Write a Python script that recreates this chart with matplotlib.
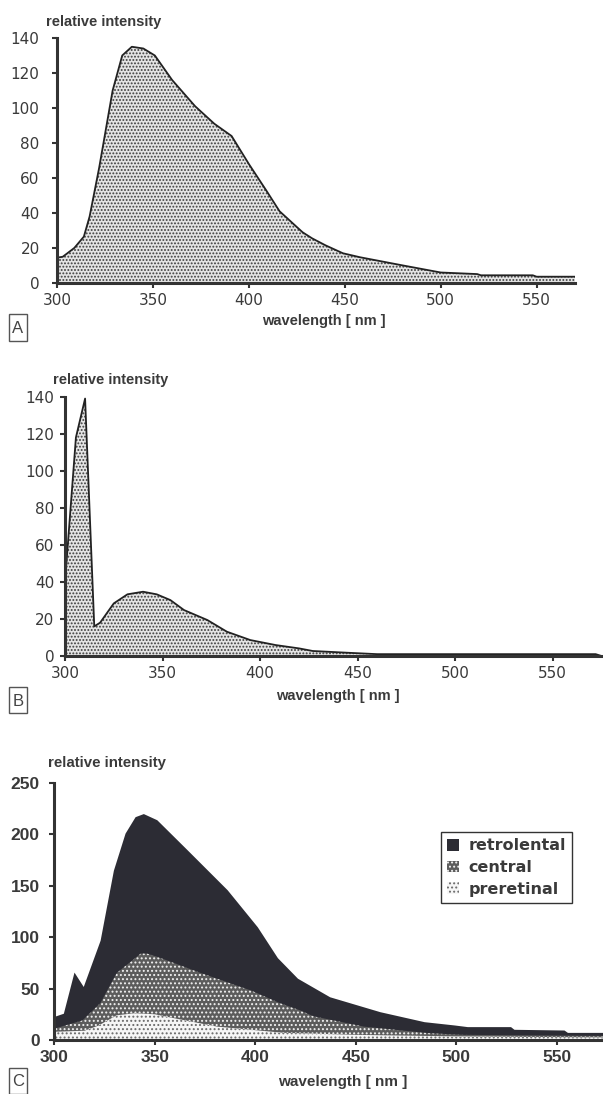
import matplotlib
matplotlib.use("Agg")
import matplotlib.pyplot as plt
from matplotlib.patches import Patch, Rectangle

# ---------------- data ----------------
wl_A = [300, 303, 309, 314, 317, 322, 329, 334, 339, 345, 351, 360, 372, 382, 391, 400,
        409, 416, 423, 428, 433, 440, 449, 458, 479, 500, 519, 521, 548, 550, 570]
int_A = [14.5, 15, 20, 26.5, 38, 66, 110, 130, 135, 134, 130, 116, 101, 91, 84, 68,
         53, 41, 34, 29, 25.5, 21.5, 17, 14.7, 10.3, 6, 5.1, 4.4, 4.4, 3.6, 3.6]

wl_B = [300, 305.6, 310.3, 315, 318, 325, 332, 340, 347, 354, 361, 373, 383, 395,
        408, 420, 427, 444, 460, 572, 575]
int_B = [40, 118, 139, 16, 18, 28.4, 33.3, 34.7, 33.3, 30.2, 24.8, 19.4, 13.1, 8.6,
         5.9, 4.1, 2.7, 1.8, 1.0, 1.0, 0]

wl_retro = [300, 304.5, 309.8, 314.4, 322.8, 329.4, 335.2, 340.2, 344.3, 351, 366, 386,
            401, 411, 421, 437, 462, 484, 499, 505.5, 527, 528.7, 553.6, 555.3, 573]
int_retro = [23, 26, 66, 52, 97, 165, 201, 217, 220, 214, 185, 146,
             110, 80, 60, 42, 27.5, 17.8, 14.6, 13, 13, 10.4, 9.7, 7.4, 7.4]

wl_central = [300, 314, 323, 331, 343, 346, 351, 373, 398, 412, 422, 429, 454, 487, 504, 573]
int_central = [11, 19, 36, 65, 84, 84, 81, 65, 48, 36, 29, 23, 13, 6.5, 5, 4]

wl_pre = [300, 315, 322, 331, 340, 350, 360, 381, 414, 450, 500, 573]
int_pre = [8, 9, 14, 24, 26, 25, 21, 13, 7, 5, 3.5, 2.5]

ticks_x = [300, 350, 400, 450, 500, 550]
ticks_yAB = [0, 20, 40, 60, 80, 100, 120, 140]
ticks_yC = [0, 50, 100, 150, 200, 250]
legend_labels = ["retrolental", "central", "preretinal"]

# ---------------- style ----------------
W, H = 603, 1094
fig = plt.figure(figsize=(W / 100, H / 100), dpi=100)
plt.rcParams['hatch.linewidth'] = 0.9
SPINE = '#333333'
TXT = '#3a3a3a'

FILL_AB = dict(facecolor='#e4e4e4', edgecolor='#3c3c3c', hatch='.....', lw=0)
RETRO = dict(facecolor='#2c2c34', edgecolor='#2c2c34', lw=0)
CENTRAL = dict(facecolor='#5c5c5c', edgecolor='#f2f2f2', hatch='....', lw=0)
PRE = dict(facecolor='#f6f6f6', edgecolor='#6a6a6a', hatch='....', lw=0)


def ax_at(left, right, top, bottom):
    return fig.add_axes([left / W, 1 - bottom / H, (right - left) / W, (bottom - top) / H])


def style(ax, bold_ticks=False, ypad=8):
    for s in ['top', 'right']:
        ax.spines[s].set_visible(False)
    for s in ['left', 'bottom']:
        ax.spines[s].set_color(SPINE)
        ax.spines[s].set_linewidth(2.2)
    ax.tick_params(axis='both', direction='out', length=3.5, width=1.5, color=SPINE,
                   labelcolor=TXT)
    ax.tick_params(axis='y', pad=ypad)
    if bold_ticks:
        for lab in ax.get_xticklabels() + ax.get_yticklabels():
            lab.set_fontfamily('Liberation Sans')
            lab.set_fontweight('bold')
            lab.set_fontsize(12.5)
    else:
        for lab in ax.get_xticklabels() + ax.get_yticklabels():
            lab.set_fontfamily('DejaVu Sans')
            lab.set_fontsize(11)
    ax.set_facecolor('none')


def fig_text(x, y, s, **kw):
    fig.text(x / W, 1 - y / H, s, **kw)


def letter_box(x0, y0, x1, y1, s):
    fig.add_artist(Rectangle((x0 / W, 1 - y1 / H), (x1 - x0) / W, (y1 - y0) / H,
                             transform=fig.transFigure, fill=False, ec='#555555', lw=1.0))
    fig_text((x0 + x1) / 2, (y0 + y1) / 2 + 1, s, ha='center', va='center',
             fontsize=12, color='#444444', family='Liberation Sans')


# ---------------- panel A ----------------
axA = ax_at(57, 575, 38, 283)
axA.fill_between(wl_A, 0, int_A, **FILL_AB)
axA.plot(wl_A, int_A, color='#222222', lw=1.3)
axA.set_xlim(300, 570)
axA.set_ylim(0, 140)
axA.set_xticks(ticks_x)
axA.set_yticks(ticks_yAB)
style(axA, ypad=9)
fig_text(46, 22, "relative intensity", fontsize=10.5, fontweight='bold', color=TXT,
         family='Liberation Sans', va='center')
fig_text(324, 321, "wavelength [ nm ]", fontsize=10.5, fontweight='bold', color=TXT,
         family='Liberation Sans', ha='center', va='center')
letter_box(9, 314, 27, 341, "A")

# ---------------- panel B ----------------
axB = ax_at(65, 601.5, 396.7, 656)
axB.fill_between(wl_B, 0, int_B, **FILL_AB)
axB.plot(wl_B, int_B, color='#222222', lw=1.3)
axB.set_xlim(300, 575)
axB.set_ylim(0, 140)
axB.set_xticks(ticks_x)
axB.set_yticks(ticks_yAB)
style(axB, ypad=4)
fig_text(53, 380, "relative intensity", fontsize=10.5, fontweight='bold', color=TXT,
         family='Liberation Sans', va='center')
fig_text(338, 696, "wavelength [ nm ]", fontsize=10.5, fontweight='bold', color=TXT,
         family='Liberation Sans', ha='center', va='center')
letter_box(9, 687, 27, 713, "B")

# ---------------- panel C ----------------
axC = ax_at(54.3, 603, 782.7, 1040)
axC.fill_between(wl_retro, 0, int_retro, **RETRO)
axC.fill_between(wl_central, 0, int_central, **CENTRAL)
axC.fill_between(wl_pre, 0, int_pre, **PRE)
axC.set_xlim(300, 573)
axC.set_ylim(0, 250)
axC.set_xticks(ticks_x)
axC.set_yticks(ticks_yC)
style(axC, bold_ticks=True, ypad=7)
fig_text(48, 763, "relative intensity", fontsize=10.8, fontweight='bold', color=TXT,
         family='Liberation Sans', va='center')
fig_text(343, 1082, "wavelength [ nm ]", fontsize=11, fontweight='bold', color=TXT,
         family='Liberation Sans', ha='center', va='center')
letter_box(9, 1068, 27, 1094, "C")

handles = [Patch(**RETRO), Patch(**CENTRAL), Patch(**PRE)]
leg = axC.legend(handles, legend_labels, loc='upper left',
                 bbox_to_anchor=((441 - 54.3) / 548.7, (1040 - 832) / 257.3),
                 frameon=True, fancybox=False, framealpha=1, edgecolor='#333333',
                 handlelength=0.75, handleheight=0.75, handletextpad=0.55,
                 labelspacing=0.42, borderpad=0.4, borderaxespad=0,
                 prop={'family': 'DejaVu Sans', 'weight': 'bold', 'size': 11.5})
leg.get_frame().set_linewidth(1.0)
for t in leg.get_texts():
    t.set_color(TXT)

fig.savefig("out.png", dpi=100)
